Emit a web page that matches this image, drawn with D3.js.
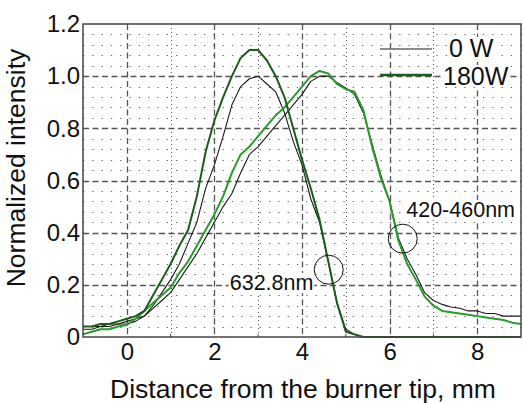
<!DOCTYPE html>
<html>
<head>
<meta charset="utf-8">
<script src="https://cdn.jsdelivr.net/npm/d3@7"></script>
<style>
  body { margin: 0; background: #fff; }
  svg { display: block; font-family: "Liberation Sans", Arial, sans-serif; }
</style>
</head>
<body>
<svg id="chart"></svg>
<script>
// distance from burner tip (mm), sampled every 0.2
var distance = d3.range(51).map(function (i) { return Math.round((-1 + i * 0.2) * 10) / 10; });

// 632.8nm, 0 W
var red0 = [0.03,0.03,0.04,0.04,0.05,0.06,0.07,0.08,0.12,0.17,0.22,0.28,0.36,0.44,0.57,0.66,0.77,0.89,0.96,0.99,
  1.00,0.97,0.94,0.86,0.75,0.66,0.53,0.44,0.29,0.13,0.03,0.01,0,0,0,0,0,0,0,0,
  0,0,0,0,0,0,0,0,0,0,0];
// 632.8nm, 180 W
var red180 = [0.04,0.04,0.05,0.05,0.06,0.07,0.08,0.10,0.16,0.22,0.28,0.35,0.41,0.54,0.71,0.83,0.92,1.00,1.07,1.10,
  1.10,1.06,1.00,0.92,0.80,0.68,0.57,0.45,0.29,0.13,0.02,0.01,0,0,0,0,0,0,0,0,
  0,0,0,0,0,0,0,0,0,0,0];
// 420-460nm, 0 W
var blue0 = [0.04,0.04,0.04,0.05,0.05,0.05,0.06,0.08,0.11,0.14,0.17,0.22,0.27,0.32,0.38,0.44,0.50,0.55,0.63,0.70,
  0.73,0.77,0.81,0.85,0.89,0.93,0.98,1.00,1.00,0.975,0.955,0.93,0.86,0.74,0.62,0.52,0.38,0.30,0.24,0.17,
  0.14,0.125,0.115,0.11,0.10,0.10,0.09,0.09,0.08,0.08,0.08];
// 420-460nm, 180 W
var blue180 = [0.01,0.02,0.03,0.03,0.04,0.046,0.07,0.10,0.13,0.16,0.19,0.245,0.29,0.35,0.41,0.47,0.54,0.63,0.70,0.73,
  0.77,0.81,0.85,0.88,0.92,0.96,1.00,1.02,1.01,0.97,0.95,0.94,0.87,0.73,0.61,0.52,0.37,0.28,0.22,0.155,
  0.12,0.10,0.095,0.09,0.085,0.08,0.075,0.07,0.065,0.055,0.05];

var xTicks = [0, 2, 4, 6, 8];
var yTicks = [0, 0.2, 0.4, 0.6, 0.8, 1.0, 1.2];
var yTickLabels = ["0", "0.2", "0.4", "0.6", "0.8", "1.0", "1.2"];
var legendLabels = ["0 W", "180W"];

var W = 523, H = 403;
var margin = { left: 83, top: 24, right: 2, bottom: 66 };
var iw = W - margin.left - margin.right, ih = H - margin.top - margin.bottom;

var svg = d3.select('#chart').attr('width', W).attr('height', H);
var g = svg.append('g').attr('transform', 'translate(' + margin.left + ',' + margin.top + ')');

var x = d3.scaleLinear().domain([-1, 9]).range([0, iw]);
var y = d3.scaleLinear().domain([0, 1.2]).range([ih, 0]);

// minor dotted grid: horizontal every 0.04
var minorY = d3.range(1, 30).map(function (i) { return i * 0.04; })
  .filter(function (v) { return Math.abs(v / 0.2 - Math.round(v / 0.2)) > 0.01; });
g.append('g').selectAll('line').data(minorY).enter().append('line')
  .attr('x1', 0).attr('x2', iw)
  .attr('y1', function (d) { return Math.round(y(d)) + 0.5; })
  .attr('y2', function (d) { return Math.round(y(d)) + 0.5; })
  .attr('stroke', '#666').attr('stroke-width', 1.2)
  .attr('stroke-dasharray', '1.3,8');
// minor vertical dotted at odd values
g.append('g').selectAll('line').data([1, 3, 5, 7]).enter().append('line')
  .attr('x1', function (d) { return Math.round(x(d)) + 0.5; })
  .attr('x2', function (d) { return Math.round(x(d)) + 0.5; })
  .attr('y1', 0).attr('y2', ih)
  .attr('stroke', '#555').attr('stroke-width', 1)
  .attr('stroke-dasharray', '1,3');

// major dashed grid
g.append('g').selectAll('line').data(yTicks.slice(1, -1)).enter().append('line')
  .attr('x1', 0).attr('x2', iw)
  .attr('y1', function (d) { return Math.round(y(d)) + 0.5; })
  .attr('y2', function (d) { return Math.round(y(d)) + 0.5; })
  .attr('stroke', '#555').attr('stroke-width', 1.3)
  .attr('stroke-dasharray', '6,3.5');
g.append('g').selectAll('line').data(xTicks).enter().append('line')
  .attr('x1', function (d) { return Math.round(x(d)) + 0.5; })
  .attr('x2', function (d) { return Math.round(x(d)) + 0.5; })
  .attr('y1', 0).attr('y2', ih)
  .attr('stroke', '#555').attr('stroke-width', 1.3)
  .attr('stroke-dasharray', '6,3.5');

// annotation labels with white boxes
function label(txt, px, py) {
  var t = g.append('text').attr('x', px).attr('y', py)
    .attr('font-size', 21.5).attr('fill', '#111').text(txt);
  var b = t.node().getBBox();
  g.insert('rect', 'text').attr('x', b.x - 1).attr('y', b.y + 2)
    .attr('width', b.width + 2).attr('height', b.height - 4).attr('fill', '#fff');
}
label('632.8nm', x(2.35) , y(0.18));
label('420-460nm', x(6.38), y(0.46));

// curves
var line = d3.line()
  .x(function (d) { return x(d[0]); })
  .y(function (d) { return y(d[1]); });
function pairs(vals) { return distance.map(function (d, i) { return [d, vals[i]]; }); }

var series = [
  { vals: blue0, color: '#1a1a1a', w: 1.1 },
  { vals: red0, color: '#1a1a1a', w: 1.1 },
  { vals: blue180, color: '#2a9a2a', w: 2 },
  { vals: red180, color: '#1b5e1b', w: 2 }
];
g.append('g').selectAll('path').data(series).enter().append('path')
  .attr('d', function (s) { return line(pairs(s.vals)); })
  .attr('fill', 'none')
  .attr('stroke', function (s) { return s.color; })
  .attr('stroke-width', function (s) { return s.w; })
  .attr('stroke-linejoin', 'round');

// circles marking the curves
g.append('circle').attr('cx', x(4.61)).attr('cy', y(0.258)).attr('r', 14.5)
  .attr('fill', 'none').attr('stroke', '#111').attr('stroke-width', 1);
g.append('circle').attr('cx', x(6.3)).attr('cy', y(0.377)).attr('r', 14.5)
  .attr('fill', 'none').attr('stroke', '#111').attr('stroke-width', 1);

// frame
g.append('rect').attr('x', 0).attr('y', 0).attr('width', iw).attr('height', ih)
  .attr('fill', 'none').attr('stroke', '#444').attr('stroke-width', 1.5);

// small inward minor ticks on bottom
g.append('g').selectAll('line').data([1, 3, 5, 7]).enter().append('line')
  .attr('x1', function (d) { return x(d); }).attr('x2', function (d) { return x(d); })
  .attr('y1', ih).attr('y2', ih - 3).attr('stroke', '#444');

// axes (labels only)
var xAxis = g.append('g').attr('transform', 'translate(0,' + ih + ')')
  .call(d3.axisBottom(x).tickValues(xTicks).tickSize(0).tickPadding(0).tickFormat(d3.format('d')));
xAxis.select('.domain').remove();
xAxis.selectAll('text').attr('font-size', 24).attr('fill', '#111')
  .attr('font-family', '"Liberation Sans", Arial, sans-serif')
  .attr('dy', null).attr('y', 23);

var yAxis = g.append('g')
  .call(d3.axisLeft(y).tickValues(yTicks).tickSize(0).tickPadding(3)
    .tickFormat(function (d, i) { return yTickLabels[i]; }));
yAxis.select('.domain').remove();
yAxis.selectAll('text').attr('font-size', 24).attr('fill', '#111')
  .attr('font-family', '"Liberation Sans", Arial, sans-serif');

// axis titles
svg.append('text').attr('x', 303).attr('y', 398).attr('text-anchor', 'middle')
  .attr('font-size', 26.5).attr('fill', '#111').text('Distance from the burner tip, mm');
svg.append('text').attr('transform', 'translate(25,168) rotate(-90)').attr('text-anchor', 'middle')
  .attr('font-size', 26.5).attr('fill', '#111').text('Normalized intensity');

// legend
var leg = svg.append('g');
var legItems = [
  { label: legendLabels[0], color: '#666', w: 1.5, ly: 49, tx: 449, ty: 57 },
  { label: legendLabels[1], color: '#1b5e1b', w: 2.5, ly: 75, tx: 443, ty: 85 }
];
legItems.forEach(function (d) {
  leg.append('line').attr('x1', 380).attr('x2', 432).attr('y1', d.ly).attr('y2', d.ly)
    .attr('stroke', d.color).attr('stroke-width', d.w);
  var t = leg.append('text').attr('x', d.tx).attr('y', d.ty).attr('font-size', 25)
    .attr('fill', '#111').text(d.label);
  var b = t.node().getBBox();
  leg.insert('rect', 'text').attr('x', b.x - 1).attr('y', b.y + 3)
    .attr('width', b.width + 2).attr('height', b.height - 6).attr('fill', '#fff');
});
</script>
</body>
</html>
